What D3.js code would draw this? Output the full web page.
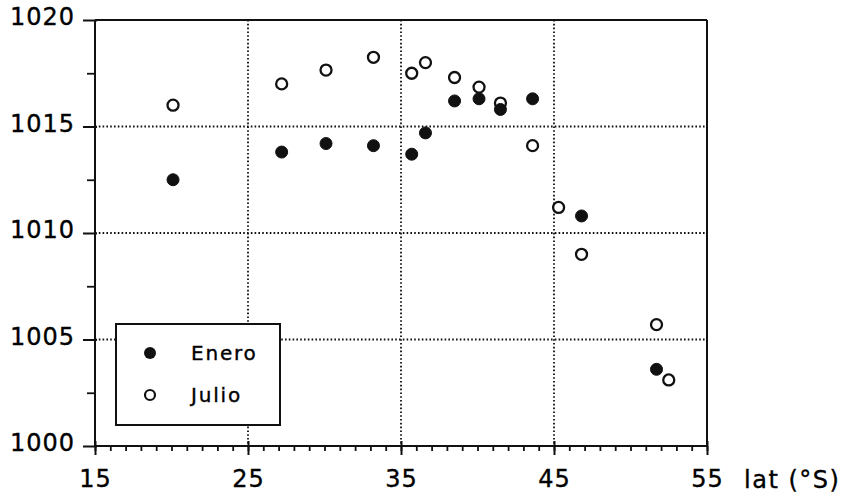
<!DOCTYPE html>
<html>
<head>
<meta charset="utf-8">
<script src="https://cdn.jsdelivr.net/npm/d3@7"></script>
<style>
  body { margin: 0; background: #fff; }
  text { font-family: "DejaVu Sans", sans-serif; fill: #000; stroke: #000; stroke-width: 0.35px; }
</style>
</head>
<body>
<div id="chart"></div>
<script>
// Enero (filled) and Julio (open) surface pressure vs latitude
var latEnero  = [20.1, 27.2, 30.1, 33.2, 35.7, 36.6, 38.5, 40.1, 41.5, 43.6, 46.8, 51.7];
var presEnero = [1012.5, 1013.8, 1014.2, 1014.1, 1013.7, 1014.7, 1016.2, 1016.3, 1015.8, 1016.3, 1010.8, 1003.6];

var latJulio  = [20.1, 27.2, 30.1, 33.2, 35.7, 36.6, 38.5, 40.1, 41.5, 43.6, 45.3, 46.8, 51.7, 52.5];
var presJulio = [1016.0, 1017.0, 1017.65, 1018.25, 1017.5, 1018.0, 1017.3, 1016.85, 1016.1, 1014.1, 1011.2, 1009.0, 1005.7, 1003.1];

var xTicks = [15, 25, 35, 45, 55];
var yTicks = [1000, 1005, 1010, 1015, 1020];
var xMinor = d3.range(15, 56, 1);
var yMinor = [1002.5, 1007.5, 1012.5, 1017.5];

var seriesNames = ["Enero", "Julio"];
var xLabel = "lat (°S)";

var W = 850, H = 497;
var margin = {top: 20, right: 143, bottom: 51, left: 95};
var iw = W - margin.left - margin.right,
    ih = H - margin.top - margin.bottom;

var svg = d3.select("#chart").append("svg")
    .attr("width", W)
    .attr("height", H);

var g = svg.append("g")
    .attr("transform", "translate(" + margin.left + "," + margin.top + ")");

var xScale = d3.scaleLinear().domain([15, 55]).range([0, iw]);
var yScale = d3.scaleLinear().domain([1000, 1020]).range([ih, 0]);

//dotted grid
g.selectAll(".vgrid")
  .data(xTicks.filter(function(d){ return d > 15 && d < 55; }))
  .enter().append("line")
    .attr("x1", function(d){ return xScale(d); })
    .attr("x2", function(d){ return xScale(d); })
    .attr("y1", 0).attr("y2", ih)
    .attr("stroke", "#111").attr("stroke-width", 1.8)
    .attr("stroke-dasharray", "1.6,2.2");

g.selectAll(".hgrid")
  .data(yTicks.filter(function(d){ return d > 1000 && d < 1020; }))
  .enter().append("line")
    .attr("y1", function(d){ return yScale(d); })
    .attr("y2", function(d){ return yScale(d); })
    .attr("x1", 0).attr("x2", iw)
    .attr("stroke", "#111").attr("stroke-width", 1.8)
    .attr("stroke-dasharray", "1.6,2.2");

//frame top and right
g.append("line").attr("x1", 0).attr("x2", iw).attr("y1", 0).attr("y2", 0)
  .attr("stroke", "#111").attr("stroke-width", 2);
g.append("line").attr("x1", iw).attr("x2", iw).attr("y1", 0).attr("y2", ih)
  .attr("stroke", "#111").attr("stroke-width", 2);

//minor ticks
g.append("g")
  .attr("transform", "translate(0," + ih + ")")
  .call(d3.axisBottom(xScale).tickValues(xMinor).tickSize(5).tickFormat(""))
  .call(function(a){ a.select(".domain").remove(); })
  .selectAll("line").attr("stroke", "#111").attr("stroke-width", 1.8);

g.append("g")
  .call(d3.axisLeft(yScale).tickValues(yMinor).tickSize(8).tickFormat(""))
  .call(function(a){ a.select(".domain").remove(); })
  .selectAll("line").attr("stroke", "#111").attr("stroke-width", 1.8);

//major axes
var xAxis = g.append("g")
  .attr("transform", "translate(0," + ih + ")")
  .call(d3.axisBottom(xScale).tickValues(xTicks).tickSize(9).tickPadding(16).tickFormat(d3.format("d")));
xAxis.select(".domain").attr("stroke", "#111").attr("stroke-width", 2).attr("d", "M0,0H" + iw);
xAxis.selectAll(".tick line").attr("y1", -5).attr("y2", 9).attr("stroke", "#111").attr("stroke-width", 2);
xAxis.selectAll(".tick text")
  .style("font-size", "24px").style("letter-spacing", "1px")
  .attr("dy", "0.71em").attr("y", 24);

var yAxis = g.append("g")
  .call(d3.axisLeft(yScale).tickValues(yTicks).tickSize(12).tickPadding(8).tickFormat(d3.format("d")));
yAxis.select(".domain").attr("stroke", "#111").attr("stroke-width", 2).attr("d", "M0," + ih + "V0");
yAxis.selectAll(".tick line").attr("x1", 2).attr("x2", -12).attr("stroke", "#111").attr("stroke-width", 2);
yAxis.selectAll(".tick text")
  .style("font-size", "24px").style("letter-spacing", "1px")
  .attr("x", -20).attr("dy", "0.2em");

//x label
svg.append("text")
  .attr("x", 744).attr("y", 488)
  .style("font-size", "24px").style("letter-spacing", "1.5px")
  .text(xLabel);

//points
g.selectAll(".julio")
  .data(latJulio)
  .enter().append("circle")
    .attr("cx", function(d){ return xScale(d); })
    .attr("cy", function(d, i){ return yScale(presJulio[i]); })
    .attr("r", 5.5)
    .attr("fill", "#fff").attr("stroke", "#111").attr("stroke-width", 2.3);

g.selectAll(".enero")
  .data(latEnero)
  .enter().append("circle")
    .attr("cx", function(d){ return xScale(d); })
    .attr("cy", function(d, i){ return yScale(presEnero[i]); })
    .attr("r", 6)
    .attr("fill", "#111").attr("stroke", "#111").attr("stroke-width", 1);

//legend
var leg = svg.append("g").attr("transform", "translate(116,324)");
leg.append("rect")
  .attr("width", 164).attr("height", 101)
  .attr("fill", "#fff").attr("stroke", "#111").attr("stroke-width", 2);

leg.append("circle").attr("cx", 34).attr("cy", 29).attr("r", 6)
  .attr("fill", "#111");
leg.append("circle").attr("cx", 34).attr("cy", 71).attr("r", 5)
  .attr("fill", "#fff").attr("stroke", "#111").attr("stroke-width", 2.2);

leg.selectAll(".lt")
  .data(seriesNames)
  .enter().append("text")
    .attr("x", 75)
    .attr("y", function(d, i){ return 29 + i * 42; })
    .attr("dy", "0.36em")
    .style("font-size", "20px").style("letter-spacing", "1.8px")
    .text(function(d){ return d; });
</script>
</body>
</html>
